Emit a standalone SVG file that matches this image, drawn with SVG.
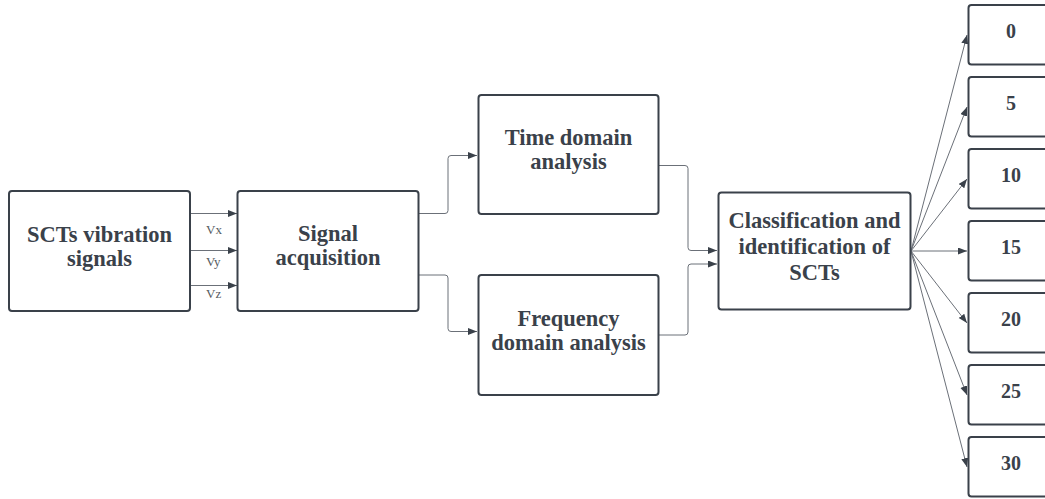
<svg xmlns="http://www.w3.org/2000/svg" width="1045" height="499" viewBox="0 0 1045 499">
<style>
.box{fill:#ffffff;stroke:#3a414a;stroke-width:2}
.lbl{font-family:'Liberation Serif','Times New Roman',serif;font-weight:bold;font-size:22.5px;fill:#3a414a;text-anchor:middle}
.num{font-family:'Liberation Serif','Times New Roman',serif;font-weight:bold;font-size:20px;fill:#3a414a;text-anchor:middle}
.v{font-family:'Liberation Serif','Times New Roman',serif;font-size:13px;fill:#555a60}
.con{fill:none;stroke:#6b7078;stroke-width:1}
</style>
<defs>
<marker id="ah" markerUnits="userSpaceOnUse" markerWidth="10" markerHeight="8" refX="9" refY="3.5" orient="auto">
<path d="M0,0 L9,3.5 L0,7 z" fill="#3a414a"/>
</marker>
</defs>
<rect width="1045" height="499" fill="#ffffff"/>
<g id="connectors">
<path class="con" d="M191,213.5 H237" marker-end="url(#ah)"/>
<path class="con" d="M191,250.5 H237" marker-end="url(#ah)"/>
<path class="con" d="M191,285.5 H237" marker-end="url(#ah)"/>
<path class="con" d="M419,213.5 H445 Q448,213.5 448,210.5 V158.5 Q448,155.5 451,155.5 H477" marker-end="url(#ah)"/>
<path class="con" d="M419,275 H445 Q448,275 448,278 V328.5 Q448,331.5 451,331.5 H477" marker-end="url(#ah)"/>
<path class="con" d="M659,165.5 H685 Q688,165.5 688,168.5 V247.5 Q688,250.5 691,250.5 H717" marker-end="url(#ah)"/>
<path class="con" d="M659,335 H685 Q688,335 688,332 V267 Q688,264 691,264 H717" marker-end="url(#ah)"/>
<path class="con" d="M911,251 L967,35" marker-end="url(#ah)"/>
<path class="con" d="M911,251 L967,107" marker-end="url(#ah)"/>
<path class="con" d="M911,251 L967,179" marker-end="url(#ah)"/>
<path class="con" d="M911,251 L967,251" marker-end="url(#ah)"/>
<path class="con" d="M911,251 L967,323" marker-end="url(#ah)"/>
<path class="con" d="M911,251 L967,395" marker-end="url(#ah)"/>
<path class="con" d="M911,251 L967,467" marker-end="url(#ah)"/>
<text class="v" x="206" y="234">Vx</text>
<text class="v" x="206" y="265.5">Vy</text>
<text class="v" x="206" y="298">Vz</text>
</g>
<g id="n-sct">
<rect class="box" x="9" y="191" width="181" height="120" rx="3"/>
<text class="lbl" x="99.5" y="242">SCTs vibration</text>
<text class="lbl" x="99.5" y="265.5">signals</text>
</g>
<g id="n-acq">
<rect class="box" x="237.5" y="191" width="181" height="120" rx="3"/>
<text class="lbl" x="328" y="241">Signal</text>
<text class="lbl" x="328" y="265">acquisition</text>
</g>
<g id="n-time">
<rect class="box" x="478.5" y="95" width="180" height="119" rx="3"/>
<text class="lbl" x="568.5" y="145">Time domain</text>
<text class="lbl" x="568.5" y="169">analysis</text>
</g>
<g id="n-freq">
<rect class="box" x="478.5" y="275" width="180" height="120" rx="3"/>
<text class="lbl" x="568.5" y="326">Frequency</text>
<text class="lbl" x="568.5" y="350">domain analysis</text>
</g>
<g id="n-class">
<rect class="box" x="718.5" y="192.5" width="192" height="117" rx="3"/>
<text class="lbl" x="814.5" y="228">Classification and</text>
<text class="lbl" x="814.5" y="254">identification of</text>
<text class="lbl" x="814.5" y="279.5">SCTs</text>
</g>
<g id="n-0"><rect class="box" x="968.5" y="5" width="86" height="59.5" rx="3"/><text class="num" x="1011" y="37.5">0</text></g>
<g id="n-5"><rect class="box" x="968.5" y="77" width="86" height="59.5" rx="3"/><text class="num" x="1011" y="109.5">5</text></g>
<g id="n-10"><rect class="box" x="968.5" y="149" width="86" height="59.5" rx="3"/><text class="num" x="1011" y="181.5">10</text></g>
<g id="n-15"><rect class="box" x="968.5" y="221" width="86" height="59.5" rx="3"/><text class="num" x="1011" y="253.5">15</text></g>
<g id="n-20"><rect class="box" x="968.5" y="293" width="86" height="59.5" rx="3"/><text class="num" x="1011" y="325.5">20</text></g>
<g id="n-25"><rect class="box" x="968.5" y="365" width="86" height="59.5" rx="3"/><text class="num" x="1011" y="397.5">25</text></g>
<g id="n-30"><rect class="box" x="968.5" y="437" width="86" height="59.5" rx="3"/><text class="num" x="1011" y="469.5">30</text></g>
</svg>
